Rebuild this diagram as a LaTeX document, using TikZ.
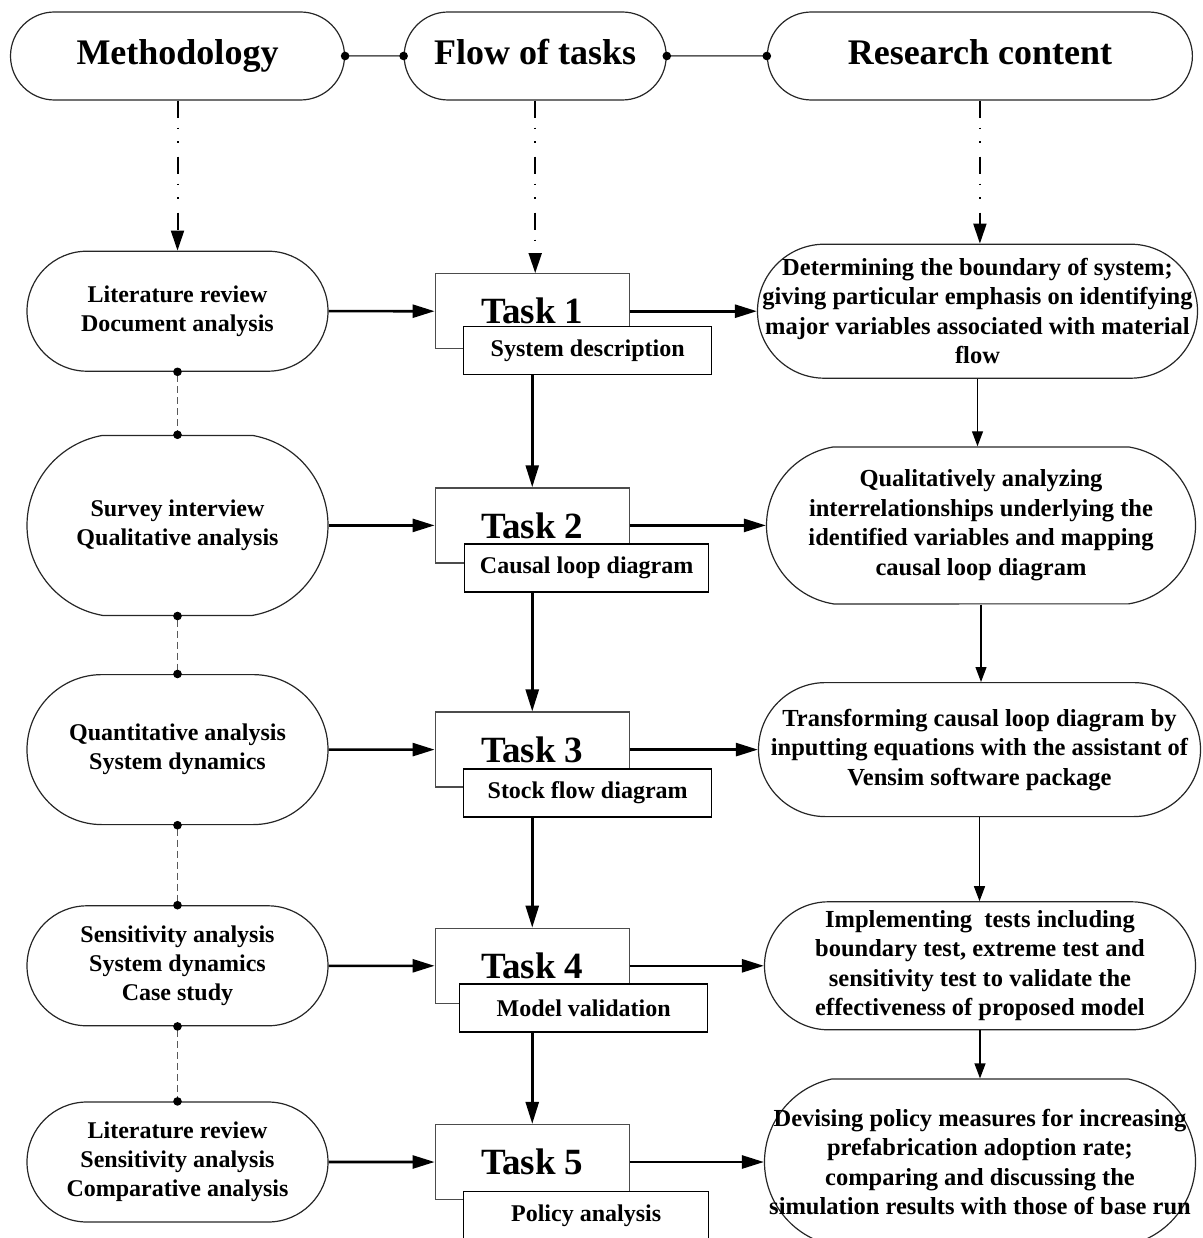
\documentclass[tikz,border=0pt]{standalone}
\usepackage{fontspec}
\setmainfont{Liberation Serif}
\usetikzlibrary{%
  arrows.meta,%
  shapes.misc,% wg. rounded rectangle
  positioning% wg. " of "
}

\tikzset{
  pill/.style={rounded rectangle, draw=black!85, line width=1.2pt, inner sep=0pt},
  headtext/.style={text height=25pt, text depth=7pt, font=\fontsize{36}{40}\selectfont\bfseries},
  methtext/.style={align=center, font=\fontsize{24}{29}\selectfont\bfseries},
  conttext/.style={align=center, font=\fontsize{24.5}{29.5}\selectfont\bfseries},
  task/.style={rectangle, draw=black!70, line width=1.3pt, minimum width=194pt, minimum height=75pt, inner sep=0pt, font=\fontsize{37}{40}\selectfont\bfseries},
  result/.style={rectangle, draw, fill=white, line width=1.5pt, minimum height=48pt, inner sep=0pt, font=\fontsize{24}{28}\selectfont\bfseries},
  strong/.style={-{Triangle[length=22pt,width=13pt]}, line width=2.6pt},
  weak/.style={-{Triangle[length=15pt,width=11pt]}, line width=1.2pt},
  lead/.style={-{Triangle[length=20pt,width=13pt]}, line width=2pt, dash pattern=on 17pt off 10pt on 1.5pt off 12pt on 1.5pt off 14pt},
  joint/.style={{Circle[length=8.5pt,color=black]}-{Circle[length=8.5pt,color=black]}, shorten <=-4.25pt, shorten >=-4.25pt, draw=black!65, line width=1.5pt},
  dashlink/.style={joint, dash pattern=on 7pt off 4pt}
}

\begin{document}
\begin{tikzpicture}[x=1pt,y=1pt]
  \useasboundingbox (0,0) rectangle (1202,-1238);
  %headings
  \node[pill, minimum width=334pt, minimum height=88pt, label={[headtext]center:Methodology}] (meth) at (177.5,-56) {};
  \node[pill, minimum width=262pt, minimum height=88pt, label={[headtext]center:Flow of tasks}] (flow) [right=58.5pt of meth] {};
  \node[pill, minimum width=425pt, minimum height=88pt, label={[headtext]center:Research content}] (res) [right=100pt of flow] {};

  %methodology column
  \node[pill, minimum width=301pt, minimum height=120pt, label={[methtext]center:{Literature review\\Document analysis}}] (lit_doc) [below=150pt of meth] {};
  \node[pill, rounded rectangle arc length=160, minimum width=301pt, minimum height=180pt, label={[methtext]center:{Survey interview\\Qualitative analysis}}] (survey_qual) [below=63pt of lit_doc] {};
  \node[pill, minimum width=301pt, minimum height=150pt, label={[methtext]center:{Quantitative analysis\\System dynamics}}] (quan_sd) [below=58pt of survey_qual] {};
  \node[pill, minimum width=301pt, minimum height=120pt, label={[methtext]center:{Sensitivity analysis\\System dynamics\\Case study}}] (sens_sd_case) [below=80pt of quan_sd] {};
  \node[pill, minimum width=301pt, minimum height=120pt, label={[methtext]center:{Literature review\\Sensitivity analysis\\Comparative analysis}}] (lit_sens_comp) [below=75pt of sens_sd_case] {};

  %tasks
  \node[task] (task_1) [right=106pt of lit_doc] {Task 1};
  \node[result, minimum width=248pt] (sys_desc) [below right=-23.5pt and -167pt of task_1] {System description};
  \node[task] (task_2) [right=106pt of survey_qual] {Task 2};
  \node[result, minimum width=244pt] (cld) [below right=-20.5pt and -166pt of task_2] {Causal loop diagram};
  \node[task] (task_3) [right=106pt of quan_sd] {Task 3};
  \node[result, minimum width=248pt] (sfd) [below right=-19.5pt and -167pt of task_3] {Stock flow diagram};
  \node[task] (task_4) [right=106pt of sens_sd_case] {Task 4};
  \node[result, minimum width=248pt] (model_val) [below right=-20.5pt and -171pt of task_4] {Model validation};
  \node[task] (task_5) [right=106pt of lit_sens_comp] {Task 5};
  \node[result, minimum width=245pt] (policy) [below right=-9.5pt and -167pt of task_5] {Policy analysis};

  %research content
  \node[pill, minimum width=440pt, minimum height=134pt, label={[conttext]center:{Determining the boundary of system;\\giving particular emphasis on identifying\\major variables associated with material\\flow}}] (boundary) [right=127pt of task_1] {};
  \node[pill, rounded rectangle arc length=162, minimum width=429pt, minimum height=157pt, label={[conttext]center:{Qualitatively analyzing\\interrelationships underlying the\\identified variables and mapping\\causal loop diagram}}] (interrel) [right=136pt of task_2] {};
  \node[pill, minimum width=442pt, minimum height=134pt, label={[conttext]center:{Transforming causal loop diagram by\\inputting equations with the assistant of\\Vensim software package}}] (transform) [right=128pt of task_3] {};
  \node[pill, minimum width=431pt, minimum height=128pt, label={[conttext]center:{Implementing~ tests including\\boundary test, extreme test and\\sensitivity test to validate the\\effectiveness of proposed model}}] (tests) [right=134pt of task_4] {};
  \node[pill, rounded rectangle arc length=156, minimum width=431pt, minimum height=166pt, label={[conttext]center:{Devising policy measures for increasing\\prefabrication adoption rate;\\comparing and discussing the\\simulation results with those of base run}}] (measures) [right=134pt of task_5] {};

  \path[joint]
    (meth) edge (flow)
    (flow) edge (res);
  \path[dashlink]
    (lit_doc) edge (survey_qual)
    (survey_qual) edge (quan_sd)
    (quan_sd) edge (sens_sd_case)
    (sens_sd_case) edge (lit_sens_comp);
  \path[lead]
    (meth) edge (lit_doc)
    (flow) edge (flow |- task_1.north)
    (res) edge (res |- boundary.north);
  \path[strong]
    (lit_doc) edge (task_1)
    (survey_qual) edge (task_2)
    (quan_sd) edge (task_3)
    (sens_sd_case) edge (task_4)
    (lit_sens_comp) edge (task_5)
    (task_1) edge (boundary)
    (task_2) edge (interrel)
    (task_3) edge (transform)
    (task_4) edge (tests)
    (task_5) edge (measures)
    (sys_desc.south -| task_1) edge (task_2)
    (cld.south -| task_2) edge (task_3)
    (sfd.south -| task_3) edge (task_4)
    (model_val.south -| task_4) edge (task_5);
  \path[weak]
    (boundary.south) edge (boundary.south |- interrel.north)
    (interrel.south) edge (interrel.south |- transform.north)
    (transform.south) edge (transform.south |- tests.north)
    (tests.south) edge (tests.south |- measures.north);
\end{tikzpicture}
\end{document}
